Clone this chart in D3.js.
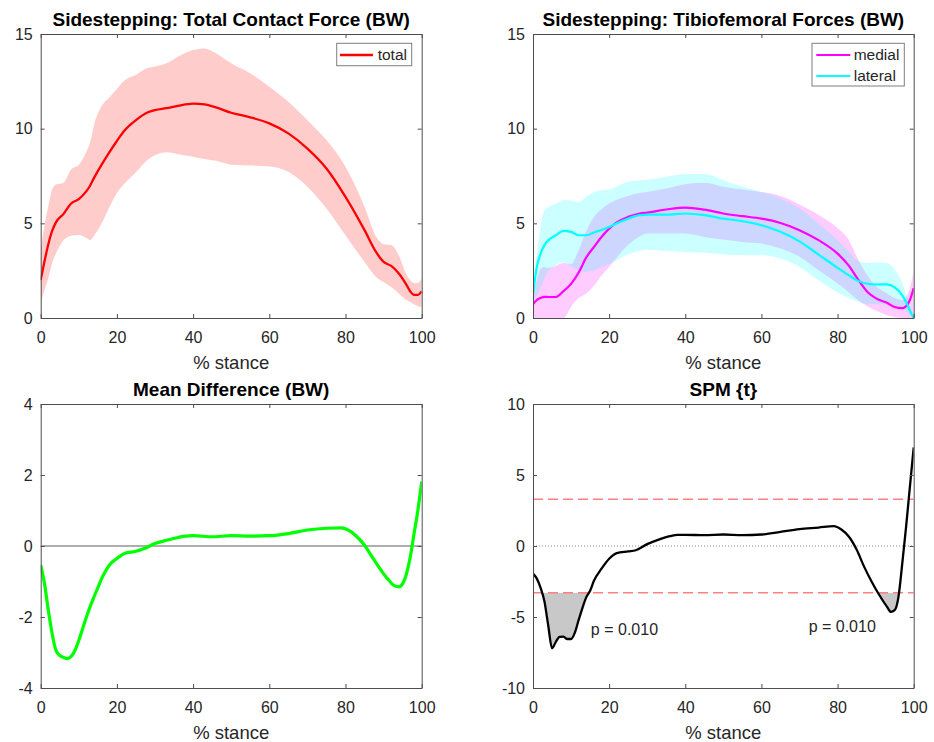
<!DOCTYPE html>
<html>
<head>
<meta charset="utf-8">
<script src="https://cdn.jsdelivr.net/npm/d3@7"></script>
<style>
  html, body { margin: 0; padding: 0; background: #fff; }
  svg { display: block; font-family: "Liberation Sans", Arial, Helvetica, sans-serif; }
</style>
</head>
<body>
<svg id="chart" width="934" height="742"></svg>
<script>
// ---------------- DATA ----------------
const xTicks = [0, 20, 40, 60, 80, 100];
const forceTicks = [0, 5, 10, 15];
const diffTicks = [-4, -2, 0, 2, 4];
const spmTicks = [-10, -5, 0, 5, 10];

// Panel 1: total contact force
const stance1 = [0,1,2,3,4,6,8,10,12,13,14,16,18,20,22,25,28,30,33,36,40,43,46,50,55,60,65,70,75,80,85,88,90,92,94,96,97,98,99,100];
const totalMean = [2.0,3.0,3.9,4.6,5.05,5.5,6.05,6.28,6.7,7.0,7.4,8.1,8.75,9.35,9.9,10.45,10.85,10.98,11.08,11.2,11.32,11.28,11.12,10.84,10.6,10.28,9.75,8.95,7.9,6.4,4.64,3.49,2.96,2.75,2.35,1.75,1.4,1.22,1.22,1.41];
const totalUpper = [3.6,4.9,5.9,6.8,7.05,7.15,7.85,8.1,8.8,9.3,10.2,11.2,11.65,12.1,12.55,12.85,13.2,13.28,13.45,13.8,14.15,14.24,13.98,13.45,12.92,12.22,11.42,10.45,9.4,7.99,5.87,4.3,3.9,3.85,3.3,2.3,2.0,1.85,1.85,2.08];
const totalLower = [0.78,1.5,2.1,2.9,3.4,4.1,4.35,4.38,4.22,4.12,4.35,5.0,5.85,6.6,7.1,7.7,8.35,8.6,8.75,8.65,8.52,8.4,8.3,8.1,8.05,8.0,7.72,6.93,5.78,4.37,2.96,2.17,1.9,1.64,1.3,0.95,0.85,0.72,0.62,0.58];

// Panel 2: tibiofemoral forces
const stance2 = [0,1,2,3,4,6,8,10,12,14,16,18,20,22,25,28,30,35,40,45,50,55,60,65,70,75,80,83,85,88,90,93,95,97,98,99,100];
const medialMean = [0.72,0.95,1.06,1.12,1.11,1.11,1.42,1.8,2.4,3.2,3.75,4.28,4.72,5.05,5.34,5.52,5.57,5.73,5.83,5.72,5.52,5.38,5.25,5.02,4.64,4.11,3.4,2.75,2.15,1.35,1.05,0.8,0.58,0.52,0.62,0.95,1.58];
const medialUpper = [1.3,2.0,2.6,2.7,2.65,2.75,2.9,2.85,3.6,4.6,5.34,5.75,6.05,6.25,6.45,6.6,6.66,6.84,7.07,7.14,6.93,6.79,6.66,6.45,6.0,5.45,4.75,4.1,3.25,2.2,1.7,1.3,1.05,0.95,1.1,1.6,2.5];
const medialLower = [0,0,0,0,0,0,0,0.6,1.05,1.3,1.7,2.25,2.7,3.2,3.85,4.3,4.46,4.46,4.46,4.28,4.14,4.02,3.93,3.67,3.23,2.52,1.82,1.35,1.0,0.6,0.4,0.15,0.05,0,0,0,0];
const lateralMean = [1.25,2.7,3.4,3.85,4.1,4.37,4.6,4.55,4.37,4.37,4.52,4.65,4.81,5.0,5.25,5.43,5.46,5.46,5.52,5.43,5.25,5.11,4.9,4.55,4.05,3.35,2.65,2.25,2.0,1.8,1.77,1.78,1.62,1.2,0.85,0.4,0];
const lateralUpper = [1.46,3.4,4.8,5.69,5.85,6.05,6.22,6.2,6.1,6.4,6.65,6.75,6.79,6.95,7.19,7.28,7.3,7.46,7.6,7.6,7.28,6.93,6.66,6.31,5.78,4.99,4.11,3.5,3.05,2.9,2.95,2.9,2.55,1.85,1.3,0.7,0.2];
const lateralLower = [0.9,1.2,1.6,2.1,2.45,2.8,2.95,2.75,2.5,2.43,2.52,2.7,2.84,3.05,3.37,3.55,3.61,3.54,3.49,3.44,3.35,3.31,3.31,3.14,2.7,1.99,1.35,1.05,0.88,0.72,0.72,0.7,0.65,0.5,0.35,0.15,0];

// Panels 3 & 4: mean difference and SPM{t}
const stance3 = [0,1,2,3,4,5,6,7,8,9,10,11,12,13,14,15,16,18,20,22,25,27,30,33,36,38,40,45,50,55,60,65,70,75,79,81,83,85,87,89,91,93,94,95,96,97,98,99,100];
const meanDiff = [-0.54,-1.06,-1.81,-2.47,-2.94,-3.08,-3.14,-3.17,-3.11,-2.94,-2.66,-2.33,-2.0,-1.7,-1.43,-1.17,-0.92,-0.54,-0.35,-0.21,-0.15,-0.08,0.07,0.16,0.24,0.28,0.29,0.26,0.29,0.28,0.29,0.35,0.45,0.5,0.51,0.43,0.26,0.02,-0.31,-0.63,-0.92,-1.13,-1.15,-1.06,-0.78,-0.31,0.35,1.01,1.81];
const spmT = [-1.94,-2.3,-2.95,-3.9,-5.6,-7.2,-6.75,-6.4,-6.38,-6.55,-6.55,-6.1,-5.2,-4.35,-3.6,-3.15,-2.45,-1.6,-0.9,-0.5,-0.38,-0.3,0.13,0.45,0.7,0.79,0.79,0.76,0.81,0.76,0.81,1.0,1.19,1.3,1.4,1.16,0.65,-0.25,-1.47,-2.53,-3.47,-4.29,-4.64,-4.52,-3.58,-1.23,1.35,4.17,6.94];
const spmThreshold = 3.3;
const clusterLabels = ["p = 0.010", "p = 0.010"];
const clusterLabelX = [15.2, 72.4];
const clusterLabelY = [-5.87, -5.63];

// ---------------- DRAWING ----------------
const svg = d3.select("#chart");
const FONT_TICK = 16, FONT_LABEL = 18.5, FONT_TITLE = 19, FONT_LEGEND = 15.5;
const TXT = "#262626", AX = "#4d4d4d";
const plainFmt = d => String(d);

const panels = [
  {id: "p1", left: 40.7, right: 421.7, top: 34, bottom: 318, yDomain: [0, 15], yTicks: forceTicks, title: "Sidestepping: Total Contact Force (BW)"},
  {id: "p2", left: 533, right: 913.7, top: 34, bottom: 318, yDomain: [0, 15], yTicks: forceTicks, title: "Sidestepping: Tibiofemoral Forces (BW)"},
  {id: "p3", left: 40.7, right: 421.7, top: 404, bottom: 688, yDomain: [-4, 4], yTicks: diffTicks, title: "Mean Difference (BW)"},
  {id: "p4", left: 533, right: 913.7, top: 404, bottom: 688, yDomain: [-10, 10], yTicks: spmTicks, title: "SPM {t}"}
];

const defs = svg.append("defs");

panels.forEach(p => {
  p.x = d3.scaleLinear().domain([0, 100]).range([p.left, p.right]);
  p.y = d3.scaleLinear().domain(p.yDomain).range([p.bottom, p.top]);
  defs.append("clipPath").attr("id", "clip-" + p.id)
    .append("rect").attr("x", p.left).attr("y", p.top)
    .attr("width", p.right - p.left).attr("height", p.bottom - p.top);
  p.g = svg.append("g");
  p.plot = p.g.append("g").attr("clip-path", `url(#clip-${p.id})`);
});

function drawFrame(p) {
  const g = p.g.append("g");
  const tl = 4;
  const ax = g.append("g").attr("transform", `translate(0,${p.bottom})`)
    .call(d3.axisBottom(p.x).tickValues(xTicks).tickFormat(plainFmt).tickSize(-tl).tickPadding(10).tickSizeOuter(0));
  const axT = g.append("g").attr("transform", `translate(0,${p.top})`)
    .call(d3.axisTop(p.x).tickValues(xTicks).tickSize(-tl).tickFormat("").tickSizeOuter(0));
  const ay = g.append("g").attr("transform", `translate(${p.left},0)`)
    .call(d3.axisLeft(p.y).tickValues(p.yTicks).tickFormat(plainFmt).tickSize(-tl).tickPadding(8).tickSizeOuter(0));
  const ayR = g.append("g").attr("transform", `translate(${p.right},0)`)
    .call(d3.axisRight(p.y).tickValues(p.yTicks).tickSize(-tl).tickFormat("").tickSizeOuter(0));
  [ax, axT, ay, ayR].forEach(a => {
    a.select(".domain").attr("stroke", AX).attr("stroke-width", 1);
    a.selectAll(".tick line").attr("stroke", AX).attr("stroke-width", 1);
    a.selectAll(".tick text").attr("fill", TXT).attr("font-size", FONT_TICK)
      .attr("font-family", '"Liberation Sans", Arial, sans-serif');
  });
  ax.selectAll(".tick text").attr("dy", "0.95em");
  g.append("text").attr("x", (p.left + p.right) / 2).attr("y", p.bottom + 50.5)
    .attr("text-anchor", "middle").attr("font-size", FONT_LABEL).attr("fill", TXT)
    .text("% stance");
  g.append("text").attr("x", (p.left + p.right) / 2).attr("y", p.top - 8)
    .attr("text-anchor", "middle").attr("font-size", FONT_TITLE).attr("font-weight", "bold")
    .attr("fill", "#000").text(p.title);
}

function bandArea(p, xs, lo, hi) {
  return d3.area().x((d, i) => p.x(xs[i])).y0((d, i) => p.y(lo[i])).y1((d, i) => p.y(hi[i]))
    .curve(d3.curveMonotoneX)(xs);
}
function linePath(p, xs, ys) {
  return d3.line().x((d, i) => p.x(xs[i])).y((d, i) => p.y(ys[i])).curve(d3.curveMonotoneX)(xs);
}

// ---- Panel 1 ----
{
  const p = panels[0];
  p.plot.append("path").attr("d", bandArea(p, stance1, totalLower, totalUpper))
    .attr("fill", "#ff0000").attr("fill-opacity", 0.2).attr("stroke", "none");
  p.plot.append("path").attr("d", linePath(p, stance1, totalMean))
    .attr("fill", "none").attr("stroke", "#ff0000").attr("stroke-width", 2.3);
  drawFrame(p);
  const lg = p.g.append("g");
  lg.append("rect").attr("x", 336.7).attr("y", 43.3).attr("width", 75).attr("height", 22.4)
    .attr("fill", "#fff").attr("stroke", "#7f7f7f").attr("stroke-width", 1);
  lg.append("line").attr("x1", 340).attr("x2", 373).attr("y1", 55).attr("y2", 55)
    .attr("stroke", "#ff0000").attr("stroke-width", 2.3);
  lg.append("text").attr("x", 377.7).attr("y", 55).attr("dy", "0.35em")
    .attr("font-size", FONT_LEGEND).attr("fill", TXT).text("total");
}

// ---- Panel 2 ----
{
  const p = panels[1];
  p.plot.append("path").attr("d", bandArea(p, stance2, medialLower, medialUpper))
    .attr("fill", "#ff00ff").attr("fill-opacity", 0.2);
  p.plot.append("path").attr("d", bandArea(p, stance2, lateralLower, lateralUpper))
    .attr("fill", "#00ffff").attr("fill-opacity", 0.2);
  p.plot.append("path").attr("d", linePath(p, stance2, medialMean))
    .attr("fill", "none").attr("stroke", "#ff00ff").attr("stroke-width", 2.2);
  p.plot.append("path").attr("d", linePath(p, stance2, lateralMean))
    .attr("fill", "none").attr("stroke", "#00ffff").attr("stroke-width", 2.2);
  drawFrame(p);
  const lg = p.g.append("g");
  lg.append("rect").attr("x", 812).attr("y", 43.3).attr("width", 92.3).attr("height", 42.7)
    .attr("fill", "#fff").attr("stroke", "#7f7f7f").attr("stroke-width", 1);
  [["medial", "#ff00ff", 55], ["lateral", "#00ffff", 76]].forEach(([t, c, yy]) => {
    lg.append("line").attr("x1", 816.3).attr("x2", 850.3).attr("y1", yy).attr("y2", yy)
      .attr("stroke", c).attr("stroke-width", 2.2);
    lg.append("text").attr("x", 853.7).attr("y", yy).attr("dy", "0.35em")
      .attr("font-size", FONT_LEGEND).attr("fill", TXT).text(t);
  });
}

// ---- Panel 3 ----
{
  const p = panels[2];
  p.plot.append("line").attr("x1", p.left).attr("x2", p.right)
    .attr("y1", p.y(0)).attr("y2", p.y(0)).attr("stroke", "#333").attr("stroke-width", 0.8);
  p.plot.append("path").attr("d", linePath(p, stance3, meanDiff))
    .attr("fill", "none").attr("stroke", "#00ff00").attr("stroke-width", 3.2);
  drawFrame(p);
}

// ---- Panel 4 ----
{
  const p = panels[3];
  defs.append("clipPath").attr("id", "clip-cluster")
    .append("rect").attr("x", p.left).attr("y", p.y(-spmThreshold))
    .attr("width", p.right - p.left).attr("height", p.bottom - p.y(-spmThreshold));
  p.plot.append("g").attr("clip-path", "url(#clip-cluster)")
    .append("path")
    .attr("d", d3.area().x((d, i) => p.x(stance3[i])).y0(p.y(-spmThreshold))
      .y1((d, i) => p.y(spmT[i])).curve(d3.curveMonotoneX)(stance3))
    .attr("fill", "#c8c8c8");
  p.plot.append("line").attr("x1", p.left).attr("x2", p.right)
    .attr("y1", p.y(0)).attr("y2", p.y(0)).attr("stroke", "#8c8c8c")
    .attr("stroke-width", 1).attr("stroke-dasharray", "1,2");
  [spmThreshold, -spmThreshold].forEach(v => {
    p.plot.append("line").attr("x1", p.left).attr("x2", p.right)
      .attr("y1", p.y(v)).attr("y2", p.y(v)).attr("stroke", "#ff8080")
      .attr("stroke-width", 1.5).attr("stroke-dasharray", "10,5");
  });
  p.plot.append("path").attr("d", linePath(p, stance3, spmT))
    .attr("fill", "none").attr("stroke", "#000").attr("stroke-width", 2.3);
  drawFrame(p);
  clusterLabels.forEach((t, i) => {
    p.g.append("text").attr("x", p.x(clusterLabelX[i])).attr("y", p.y(clusterLabelY[i]))
      .attr("dy", "0.35em").attr("font-size", FONT_TICK).attr("fill", TXT).text(t);
  });
}
</script>
</body>
</html>
